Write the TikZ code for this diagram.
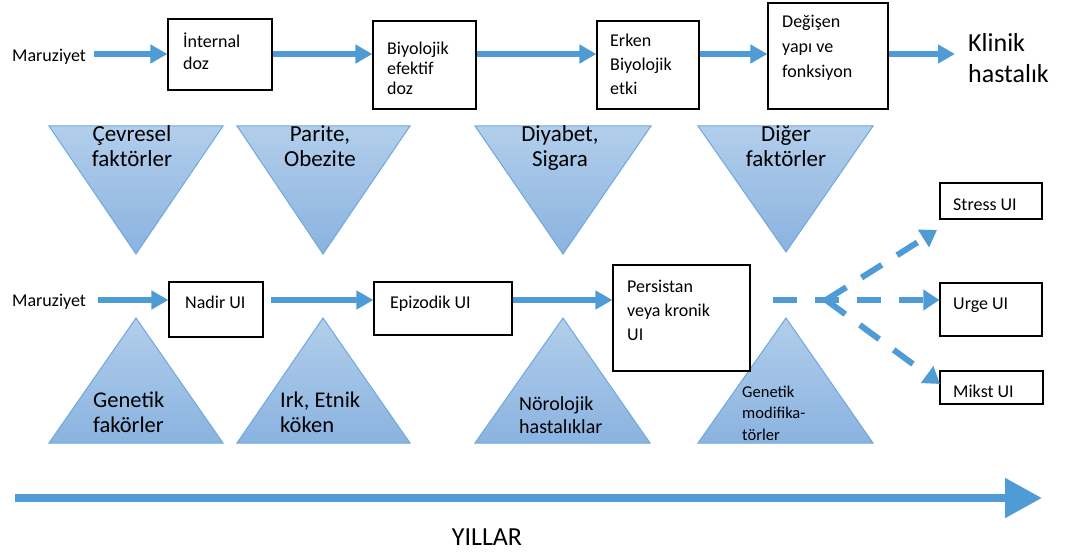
\documentclass[tikz,border=0pt]{standalone}
\usepackage{fontspec}
\setmainfont{Carlito}
\usetikzlibrary{arrows.meta}
\definecolor{arrowblue}{RGB}{79,155,213}
\definecolor{triedge}{RGB}{111,168,220}
\definecolor{tritop}{RGB}{178,206,235}
\definecolor{tribot}{RGB}{138,179,224}
\begin{document}
\begin{tikzpicture}[x=1pt,y=-1pt,
  box/.style={draw=black, line width=1.1pt, fill=white, inner sep=0pt},
  txt/.style={inner sep=0pt, align=left, font=\fontsize{18}{22.5}\selectfont, anchor=base west},
  bigtxt/.style={inner sep=0pt, align=left, font=\fontsize{26}{31}\selectfont, anchor=base west},
  tritxt/.style={inner sep=0pt, align=center, font=\fontsize{23}{25}\selectfont, anchor=base},
  ltritxt/.style={inner sep=0pt, align=left, font=\fontsize{22.5}{25}\selectfont, anchor=base west},
  flow/.style={draw=arrowblue, line width=6pt, -{Triangle[length=17pt,width=18pt]}},
  dflow/.style={draw=arrowblue, line width=6pt, dash pattern=on 24pt off 18pt, -{Triangle[length=16pt,width=20pt]}},
  bigflow/.style={draw=arrowblue, line width=8pt, -{Triangle[length=37pt,width=38pt]}},
  tri/.style={draw=triedge, line width=1pt, top color=tritop, bottom color=tribot}
]
\useasboundingbox (0,0) rectangle (1078,556);

% ---- triangles (top, pointing down)
\path[tri] (49,126) -- (223,126) -- (136,254) -- cycle;
\path[tri] (237,126) -- (410,126) -- (323,254) -- cycle;
\path[tri] (475,126) -- (651,126) -- (563,254) -- cycle;
\path[tri] (698,126) -- (873,126) -- (786,252) -- cycle;
% ---- triangles (bottom, pointing up)
\path[tri] (136,318) -- (223,443) -- (49,443) -- cycle;
\path[tri] (323,318) -- (410,443) -- (237,443) -- cycle;
\path[tri] (563,318) -- (650,443) -- (475,443) -- cycle;
\path[tri] (786,318) -- (873,443) -- (698,443) -- cycle;

% ---- top row boxes
\node[box, minimum width=104pt, minimum height=71pt] (b1) at (220,54.5) {};
\node[box, minimum width=103pt, minimum height=88pt] (b2) at (424.5,65) {};
\node[box, minimum width=102pt, minimum height=88pt] (b3) at (648,65) {};
\node[box, minimum width=120pt, minimum height=106pt] (b4) at (828,56) {};
% ---- bottom row boxes
\node[box, minimum width=94pt, minimum height=55pt] (b5) at (216,309.5) {};
\node[box, minimum width=138pt, minimum height=53pt] (b6) at (443,308.5) {};
\node[box, minimum width=137pt, minimum height=106pt] (b7) at (681.5,318) {};
\node[box, minimum width=102pt, minimum height=36pt] (b8) at (991,201) {};
\node[box, minimum width=102pt, minimum height=53pt] (b9) at (991,309.5) {};
\node[box, minimum width=103pt, minimum height=33pt] (b10) at (991.5,387.5) {};

% ---- triangle texts (anchor = baseline of last line)
\node[tritxt] (f1) at (132,167) {Çevresel\\faktörler};
\node[tritxt] (f2) at (320,167) {Parite,\\Obezite};
\node[tritxt] (f3) at (560,167) {Diyabet,\\Sigara};
\node[tritxt] (f4) at (786,167) {Diğer\\faktörler};
\node[ltritxt] (g1) at (93,432) {Genetik\\fakörler};
\node[ltritxt] (g2) at (280,432) {Irk, Etnik\\köken};
\node[inner sep=0pt, align=left, font=\fontsize{20}{23}\selectfont, anchor=base west] (g3) at (519,433) {Nörolojik\\hastalıklar};
\node[inner sep=0pt, align=left, font=\fontsize{16.5}{21.5}\selectfont, anchor=base west] (g4) at (742,440) {Genetik\\modifika-\\törler};

% ---- texts
\node[txt] (m1) at (12,62) {Maruziyet};
\node[txt] (t1) at (183,70) {İnternal\\doz};
\node[txt, font=\fontsize{18}{20}\selectfont] (t2) at (387,95) {Biyolojik\\efektif\\doz};
\node[txt, font=\fontsize{18}{24}\selectfont] (t3) at (610,95) {Erken\\Biyolojik\\etki};
\node[txt, font=\fontsize{18}{25}\selectfont] (t4) at (782,78) {Değişen\\yapı ve\\fonksiyon};
\node[bigtxt] (k) at (968,83) {Klinik\\hastalık};
\node[txt] (m2) at (12,306) {Maruziyet};
\node[txt] (t5) at (185,308) {Nadir UI};
\node[txt] (t6) at (390,308) {Epizodik UI};
\node[txt, font=\fontsize{18}{24}\selectfont] (t7) at (627,340) {Persistan\\veya kronik\\UI};
\node[txt] (t8) at (953,210) {Stress UI};
\node[txt] (t9) at (953,309) {Urge UI};
\node[txt] (t10) at (953,397) {Mikst UI};
\node[inner sep=0pt, font=\fontsize{26}{30}\selectfont, anchor=base] (yil) at (487,545) {YILLAR};

% ---- connector levels
\coordinate (r1) at (0,54);
\coordinate (r2) at (0,300);
\coordinate (kend) at (955,54);
\coordinate (d0) at (773,300);
\coordinate (br) at (826,300);
\coordinate (sup) at (937,230);
\coordinate (sdn) at (940,384);
\coordinate (ys) at (15,498);
\coordinate (ye) at (1042,498);

% ---- top arrows
\draw[flow] (m1.east |- r1) ++(8,0) -- (b1.west |- r1);
\draw[flow] (b1.east |- r1) -- (b2.west |- r1);
\draw[flow] (b2.east |- r1) -- (b3.west |- r1);
\draw[flow] (b3.east |- r1) -- (b4.west |- r1);
\draw[flow] (b4.east |- r1) -- (kend);
% ---- bottom arrows
\draw[flow] (m2.east |- r2) ++(12,0) -- (b5.west |- r2);
\draw[flow] (b5.east |- r2) ++(7,0) -- (b6.west |- r2);
\draw[flow] (b6.east |- r2) -- (b7.west |- r2);
% ---- dashed branches
\draw[dflow] (d0) -- (b9.west |- r2);
\draw[dflow] (br) -- (sup);
\draw[dflow] (br) -- (sdn);
% ---- time axis
\draw[bigflow] (ys) -- (ye);
\end{tikzpicture}
\end{document}
